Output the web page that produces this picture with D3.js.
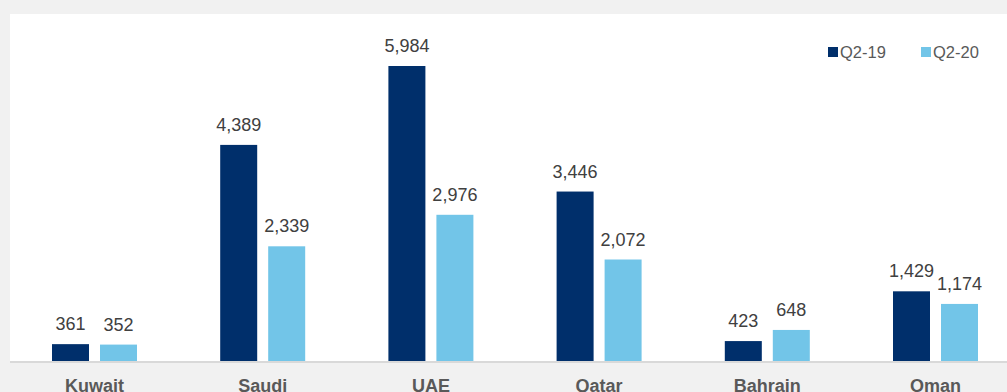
<!DOCTYPE html>
<html><head><meta charset="utf-8">
<script src="https://cdn.jsdelivr.net/npm/d3@7"></script>
<style>body{margin:0;background:#f1f1f1;}svg{display:block;}</style>
</head><body>
<svg id="c" width="1007" height="392"></svg>
<script>
const categories = ["Kuwait","Saudi","UAE","Qatar","Bahrain","Oman"];
const seriesNames = ["Q2-19","Q2-20"];
const q219 = [361,4389,5984,3446,423,1429];
const q220 = [352,2339,2976,2072,648,1174];
const colors = ["#002f6b","#72c5e8"];

const svg = d3.select("#c");
const font = "Liberation Sans, Arial, Helvetica, sans-serif";
svg.append("rect").attr("width",1007).attr("height",392).attr("fill","#f1f1f1");
svg.append("rect").attr("x",10).attr("y",14).attr("width",997).attr("height",348).attr("fill","#fff");

const x = d3.scaleBand().domain(categories).range([10.4, 1019.6]).padding(0);
const y = d3.scaleLinear().domain([0,7000]).range([362, 362 - 7000*296/5984]);
const x1 = d3.scalePoint().domain(seriesNames).range([-24, 24]);
const bw = 37;

const data = categories.map((c,i)=>({c, vals:[q219[i],q220[i]]}));
const g = svg.selectAll("g.cat").data(data).join("g")
  .attr("transform", d=>`translate(${x(d.c)+x.bandwidth()/2},0)`);
g.selectAll("rect").data(d=>d.vals.map((v,j)=>({v,s:seriesNames[j],j}))).join("rect")
  .attr("x", d=>x1(d.s)-bw/2).attr("width", bw)
  .attr("y", d=>y(d.v)).attr("height", d=>y(0)-y(d.v))
  .attr("fill", d=>colors[d.j]);
g.selectAll("text.val").data(d=>d.vals.map((v,j)=>({v,s:seriesNames[j],j}))).join("text")
  .attr("class","val")
  .attr("x", d=>x1(d.s)).attr("y", d=>y(d.v)-14)
  .attr("text-anchor","middle").attr("font-family",font).attr("font-size",18)
  .attr("fill","#404040").text(d=>d3.format(",")(d.v));

// baseline axis
const ax = svg.append("g").attr("transform","translate(0,362)")
  .call(d3.axisBottom(x).tickSize(0).tickPadding(0));
ax.select(".domain").attr("stroke","#d9d9d9").attr("stroke-width",2).attr("d","M10,0H1007");
ax.selectAll(".tick text").attr("font-family",font).attr("font-size",18).attr("font-weight","bold")
  .attr("fill","#595959").attr("dy",null).attr("y",30);

// legend
const lg = svg.append("g");
const lx = [828, 921];
seriesNames.forEach((s,i)=>{
  lg.append("rect").attr("x",lx[i]).attr("y",47).attr("width",10).attr("height",10).attr("fill",colors[i]);
  lg.append("text").attr("x",lx[i]+12).attr("y",58).attr("font-family",font).attr("font-size",16.5)
    .attr("fill","#595959").text(s);
});
</script>
</body></html>
